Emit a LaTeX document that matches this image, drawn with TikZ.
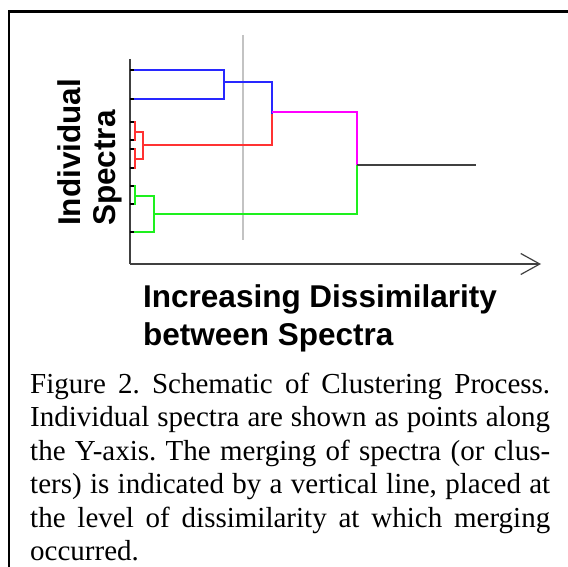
\documentclass[tikz,border=0pt]{standalone}
\usepackage{fontspec}
\setmainfont{Liberation Serif}
\newfontfamily\arialfont{Liberation Sans}
\usepackage{tikz}
\usetikzlibrary{calc, positioning, arrows.meta}
\frenchspacing

\definecolor{dblue}{RGB}{40,40,255}
\definecolor{dred}{RGB}{255,50,50}
\definecolor{dgreen}{RGB}{30,240,30}
\definecolor{dmag}{RGB}{255,0,255}
\definecolor{axisgray}{RGB}{64,64,64}
\definecolor{cutgray}{RGB}{195,195,195}

\tikzset{
  branch/.style={line width=2pt, line join=miter},
  leaftick/.style={line width=2pt, black},
  axisline/.style={line width=2pt, axisgray},
  biglabel/.style={inner sep=0pt, font=\arialfont\bfseries\fontsize{31.5}{35}\selectfont, align=left}
}

\begin{document}
\begin{tikzpicture}[x=1pt, y=-1pt, >=latex]
  \useasboundingbox (0,0) rectangle (568,567);
  \clip (0,0) rectangle (568,567);
  % frame
  \draw [line width=2.6pt] (9,600) -- (9,11.5) -- (600,11.5);
  % axes
  \coordinate (origin) at (130,264);
  \coordinate (ytop) at (130,59);
  \coordinate (xend) at (541,264);
  \draw [axisline] (ytop) -- (origin);
  \draw [axisline, -{Straight Barb[length=19pt, width=21pt, line width=1.2pt]}] (origin) -- (xend);
  % spectra along the y-axis
  \foreach \n/\y in {1/70, 2/99, 3/122, 4/140, 5/149, 6/168, 7/186, 8/204, 9/232} {
    \coordinate (l\n) at (130,\y);
  }
  % merge points
  \coordinate (b) at (224,82);
  \coordinate (bm) at (272,114);
  \coordinate (r1) at (135,132);
  \coordinate (r2) at (135,159);
  \coordinate (r3) at (143,145);
  \coordinate (top) at (272,112);
  \coordinate (g1) at (135,196);
  \coordinate (g2) at (154,214);
  \coordinate (m) at (357,165);
  \coordinate (root) at (476,165);
  % cut level
  \draw [line width=2pt, cutgray] (243,35) -- (243,240);
  % blue cluster
  \draw [branch, dblue] (l1) -| (b) |- (l2);
  \draw [branch, dblue] (b) -| (bm);
  % red cluster
  \draw [branch, dred] (l3) -| (r1) |- (l4);
  \draw [branch, dred] (l5) -| (r2) |- (l6);
  \draw [branch, dred] (r1) -| (r3) |- (r2);
  \draw [branch, dred] (r3) -| (bm);
  % green cluster
  \draw [branch, dgreen] (l7) -| (g1) |- (l8);
  \draw [branch, dgreen] (g1) -| (g2) |- (l9);
  \draw [branch, dgreen] (g2) -| (m);
  % top merges
  \draw [branch, dmag] (top) -| (m);
  \draw [branch, axisgray] (m) -- (root);
  \foreach \n in {1,...,9} {
    \draw [leaftick] (l\n) -- ++(4,0);
  }
  % labels
  \node [biglabel, rotate=90, anchor=south west] (ylab) at (122,226) {Individual\\Spectra};
  \node [biglabel, anchor=base west, font=\arialfont\bfseries\fontsize{31.5}{38}\selectfont] (xlab) at (143,345)
    {Increasing Dissimilarity\\between Spectra};
  \node [inner sep=0pt, anchor=base west, align=left, font=\fontsize{29}{33.5}\selectfont] (caption) at (30,560.5)
    {\makebox[520pt][s]{Figure 2. Schematic of Clustering Process.}\\
     \makebox[520pt][s]{Individual spectra are shown as points along}\\
     \makebox[520pt][s]{the Y-axis. The merging of spectra (or clus-}\\
     \makebox[520pt][s]{ters) is indicated by a vertical line, placed at}\\
     \makebox[520pt][s]{the level of dissimilarity at which merging}\\
     occurred.};
\end{tikzpicture}
\end{document}
